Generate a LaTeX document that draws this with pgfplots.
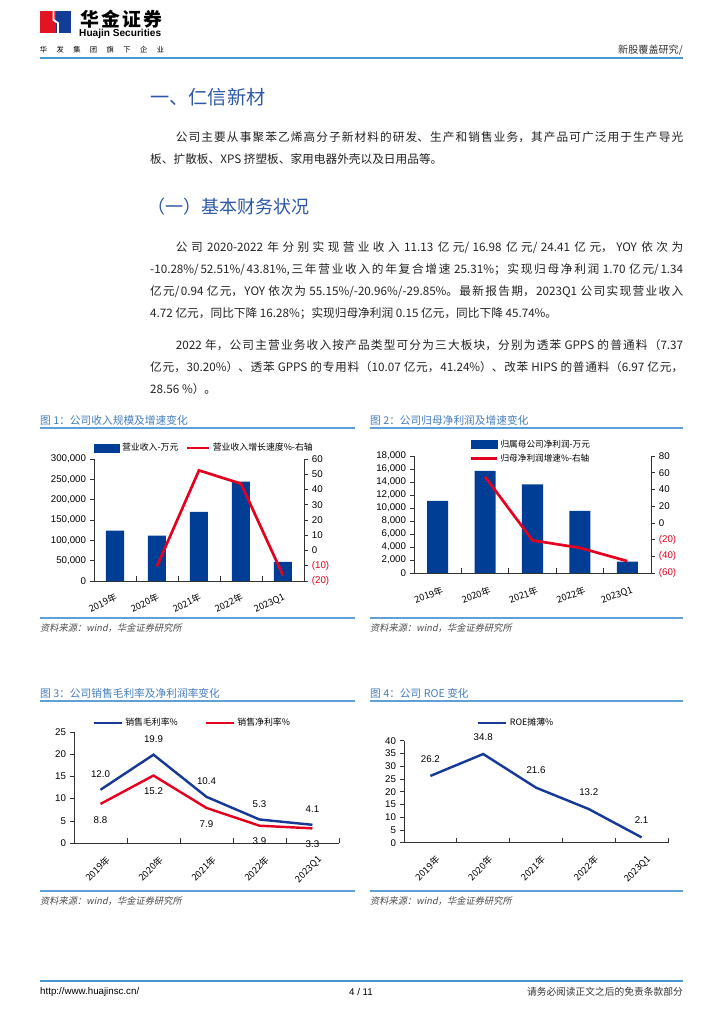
\documentclass[border=0pt]{standalone}
\usepackage{fontspec}
\usepackage{pgfplots}
\pgfplotsset{compat=1.18}
\setmainfont{Liberation Sans}
\newfontfamily\cjk{Noto Sans CJK SC}
\newfontfamily\cjkit[FakeSlant=0.2]{Noto Sans CJK SC}
\XeTeXlinebreaklocale "zh"
\XeTeXlinebreakskip=0pt plus 2pt minus 0.2pt

\definecolor{barblue}{RGB}{0,62,150}
\definecolor{lineblue}{RGB}{22,58,150}
\definecolor{axred}{RGB}{228,0,30}
\definecolor{headblue}{RGB}{45,88,165}
\definecolor{figblue}{RGB}{70,125,190}
\definecolor{rulec}{RGB}{70,150,210}
\definecolor{figrule}{RGB}{95,160,215}
\definecolor{bodytext}{RGB}{35,35,35}
\definecolor{logored}{RGB}{225,20,35}
\definecolor{logoblue}{RGB}{20,60,150}

\pgfplotsset{
  chartbase/.style={
    scale only axis, anchor=south west, xmin=-0.5, xmax=4.5, clip=false,
    axis line style={-, draw=black!80, line width=0.5pt},
    tick style={draw=black!80, line width=0.5pt},
    major tick length=3pt,
    ticklabel style={font=\fontsize{8}{9}\selectfont},
    /pgf/number format/assume math mode=true,
  },
  catx/.style={
    axis x line*=bottom, axis y line=none, ytick=\empty, ymin=0, ymax=1,
    tick align=inside, major tick length=4pt,
    xtick={0.5,1.5,2.5,3.5,4.5},
    xticklabels={2019年,2020年,2021年,2022年,2023Q1},
  },
  leftaxis/.style={axis y line*=left, axis x line=none, xtick=\empty, tick align=outside},
  rightaxis/.style={axis y line*=right, axis x line=none, xtick=\empty, tick align=outside},
}

\begin{document}
\begin{tikzpicture}
\begin{scope}[x=0.822pt, y=-0.822pt]
\fill[white] (0,0) rectangle (724,1024);
% header
\fill[logored] (40,11) rectangle (55.5,33);
\fill[logoblue] (55.5,11) rectangle (71,33);
\draw[white, line width=1.5pt] (53.5,11) -- (53.5,20) -- (58,23) -- (58,33);
\foreach \c [count=\i from 0] in {华,金,证,券}
  \node[inner sep=0pt, font=\cjk\bfseries\fontsize{15.5}{15.5}\selectfont] at (89.5+\i*21.3,19) {\c};
\node[anchor=west, inner sep=0pt, font=\bfseries\fontsize{8.3}{9}\selectfont] at (79,33.5) {Huajin Securities};
\foreach \c [count=\i from 0] in {华,发,集,团,旗,下,企,业}
  \node[inner sep=0pt, font=\cjk\fontsize{6}{6}\selectfont] at (43.5+\i*16.7,50) {\c};
\node[anchor=east, inner sep=0pt, font=\cjk\fontsize{8.3}{9}\selectfont, text=black!80] at (683,50) {新股覆盖研究/};
\draw[rulec, line width=1.6pt] (40,58) -- (683,58);
% headings and text
\node[anchor=west, inner sep=0pt, font=\cjk\fontsize{15.8}{16}\selectfont, text=headblue] at (150,97) {一、仁信新材};
\node[anchor=west, inner sep=0pt, font=\cjk\fontsize{14.8}{16}\selectfont, text=headblue] at (147,207) {（一）基本财务状况};
\begin{scope}[every node/.style={anchor=north west, inner sep=0pt, text width=438.1pt, align=justify,
    font=\cjk\fontsize{9.6}{18.1}\selectfont, text=bodytext}]
\node at (150,131) {\hspace*{2.2em}公司主要从事聚苯乙烯高分子新材料的研发、生产和销售业务，其产品可广泛用于生产导光\linebreak 板、扩散板、XPS 挤塑板、家用电器外壳以及日用品等。};
\node at (150,241) {\hspace*{2.2em}公司 2020-2022 年分别实现营业收入 11.13 亿元/16.98 亿元/24.41 亿元，YOY 依次为\linebreak -10.28\%/52.51\%/43.81\%,三年营业收入的年复合增速 25.31\%；实现归母净利润 1.70 亿元/1.34\linebreak 亿元/0.94 亿元，YOY 依次为 55.15\%/-20.96\%/-29.85\%。最新报告期，2023Q1 公司实现营业收入\linebreak 4.72 亿元，同比下降 16.28\%；实现归母净利润 0.15 亿元，同比下降 45.74\%。};
\node at (150,339) {\hspace*{2.2em}2022 年，公司主营业务收入按产品类型可分为三大板块，分别为透苯 GPPS 的普通料（7.37\linebreak 亿元，30.20\%）、透苯 GPPS 的专用料（10.07 亿元，41.24\%）、改苯 HIPS 的普通料（6.97 亿元，\linebreak 28.56 \%）。};
\end{scope}
% figure frames
\begin{scope}[every node/.style={anchor=west, inner sep=0pt, font=\cjk\fontsize{8.8}{10}\selectfont, text=figblue}]
\node at (40,420) {图 1：公司收入规模及增速变化};
\node at (370,420) {图 2：公司归母净利润及增速变化};
\node at (40,693) {图 3：公司销售毛利率及净利润率变化};
\node at (370,693) {图 4：公司 ROE 变化};
\end{scope}
\begin{scope}[every node/.style={anchor=west, inner sep=0pt, font=\cjkit\fontsize{7.6}{9}\selectfont, text=black!70}]
\node at (40,628) {资料来源：wind，华金证券研究所};
\node at (370,628) {资料来源：wind，华金证券研究所};
\node at (40,901) {资料来源：wind，华金证券研究所};
\node at (370,901) {资料来源：wind，华金证券研究所};
\end{scope}
\begin{scope}[figrule, line width=1.2pt]
\draw (40,428) -- (355,428); \draw (370,428) -- (683,428);
\draw (40,618) -- (355,618); \draw (370,618) -- (683,618);
\draw (40,701) -- (355,701); \draw (370,701) -- (683,701);
\draw (40,891) -- (355,891); \draw (370,891) -- (683,891);
\end{scope}
% footer
\draw[rulec, line width=1.4pt] (40,981) -- (683,981);
\node[anchor=west, inner sep=0pt, font=\fontsize{8}{9}\selectfont] at (40,992) {http://www.huajinsc.cn/};
\node[inner sep=0pt, font=\fontsize{8}{9}\selectfont] at (361,992) {4 / 11};
\node[anchor=east, inner sep=0pt, font=\cjk\fontsize{8}{9}\selectfont, text=black!80] at (683,992) {请务必阅读正文之后的免责条款部分};
% chart anchors
\coordinate (A1) at (94,581);
\coordinate (A2) at (414,573);
\coordinate (A3) at (74,843);
\coordinate (A4) at (404,842.7);
\end{scope}

% ---------- chart 1 ----------
\begin{axis}[chartbase, leftaxis, at={(A1)}, width=172.6pt, height=100.3pt,
  ymin=0, ymax=300000, ytick={0,50000,...,300000}, scaled y ticks=false,
  yticklabel style={/pgf/number format/.cd, fixed, 1000 sep={,}}]
\addplot[ybar, bar width=14.8pt, fill=barblue, draw=none] coordinates {
  (0,124050) (1,111300) (2,169800) (3,244100) (4,47200)};
\end{axis}
\begin{axis}[chartbase, catx, at={(A1)}, width=172.6pt, height=100.3pt,
  xticklabel style={font=\cjk\fontsize{7.6}{9}\selectfont, xshift=-16pt, yshift=-5pt, rotate=25, anchor=north east}]
\end{axis}
\begin{axis}[chartbase, rightaxis, at={(A1)}, width=172.6pt, height=100.3pt,
  ymin=-20, ymax=60, ytick={-20,-10,...,60},
  yticklabels={{\color{axred}(20)},{\color{axred}(10)},0,10,20,30,40,50,60},
  legend style={at={(0.526,1.09)}, anchor=center, draw=none, fill=none, inner sep=0pt,
    legend columns=2, font=\cjk\fontsize{7.3}{8}\selectfont,
    /tikz/every even column/.append style={column sep=4pt}}]
\addlegendimage{legend image code/.code={\fill[barblue] (0pt,-3.3pt) rectangle (21pt,3.3pt);}}
\addlegendentry{营业收入-万元}
\addlegendimage{legend image code/.code={\draw[axred, line width=2.2pt] (0pt,0pt) -- (18pt,0pt);}}
\addlegendentry{营业收入增长速度\%-右轴}
\addplot[axred, line width=2.2pt, forget plot] coordinates {
  (1,-10.28) (2,52.51) (3,43.81) (4,-16.28)};
\end{axis}

% ---------- chart 2 ----------
\begin{axis}[chartbase, leftaxis, at={(A2)}, width=194.8pt, height=96.2pt,
  ymin=0, ymax=18000, ytick={0,2000,...,18000}, scaled y ticks=false,
  yticklabel style={/pgf/number format/.cd, fixed, 1000 sep={,}}]
\addplot[ybar, bar width=17.3pt, fill=barblue, draw=none] coordinates {
  (0,11080) (1,15690) (2,13650) (3,9540) (4,1740)};
\end{axis}
\begin{axis}[chartbase, catx, at={(A2)}, width=194.8pt, height=96.2pt,
  xticklabel style={font=\cjk\fontsize{7.6}{9}\selectfont, xshift=-14.5pt, yshift=-6pt, rotate=20, anchor=north east}]
\end{axis}
\begin{axis}[chartbase, rightaxis, at={(A2)}, width=194.8pt, height=96.2pt,
  ymin=-60, ymax=80, ytick={-60,-40,...,80},
  yticklabels={{\color{axred}(60)},{\color{axred}(40)},{\color{axred}(20)},0,20,40,60,80},
  legend style={at={(0.235,1.16)}, anchor=north west, draw=none, fill=none, inner sep=0pt,
    legend cell align=left, font=\cjk\fontsize{7.1}{8}\selectfont}]
\addlegendimage{legend image code/.code={\fill[barblue] (0pt,-3.3pt) rectangle (21pt,3.3pt);}}
\addlegendentry{归属母公司净利润-万元}
\addlegendimage{legend image code/.code={\draw[axred, line width=2.2pt] (0pt,0pt) -- (21pt,0pt);}}
\addlegendentry{归母净利润增速\%-右轴}
\addplot[axred, line width=2.2pt, forget plot] coordinates {
  (1,55.15) (2,-20.96) (3,-29.85) (4,-45.74)};
\end{axis}

% ---------- chart 3 ----------
\begin{axis}[chartbase, catx, at={(A3)}, width=217.8pt, height=91.2pt,
  xticklabel style={font=\cjk\fontsize{7.6}{9}\selectfont, xshift=-18pt, yshift=-5pt, rotate=45, anchor=north east}]
\end{axis}
\begin{axis}[chartbase, leftaxis, at={(A3)}, width=217.8pt, height=91.2pt,
  ymin=0, ymax=25, ytick={0,5,...,25},
  legend style={at={(0.447,1.081)}, anchor=center, draw=none, fill=none, inner sep=0pt,
    legend columns=2, font=\cjk\fontsize{7.3}{8}\selectfont,
    /tikz/every even column/.append style={column sep=20pt}},
  legend image code/.code={\draw[#1] (0pt,0pt) -- (23pt,0pt);}]
\addplot[lineblue, line width=2pt, nodes near coords, point meta=explicit symbolic,
  every node near coord/.append style={anchor=center, yshift=13pt, text=black, font=\fontsize{8}{9}\selectfont}]
  coordinates {(0,12.0)[12.0] (1,19.9)[19.9] (2,10.4)[10.4] (3,5.3)[5.3] (4,4.1)[4.1]};
\addlegendentry{销售毛利率\%}
\addplot[axred, line width=2pt, nodes near coords, point meta=explicit symbolic,
  every node near coord/.append style={anchor=center, yshift=-13pt, text=black, font=\fontsize{8}{9}\selectfont}]
  coordinates {(0,8.8)[8.8] (1,15.2)[15.2] (2,7.9)[7.9] (3,3.9)[3.9] (4,3.3)[3.3]};
\addlegendentry{销售净利率\%}
\end{axis}

% ---------- chart 4 ----------
\begin{axis}[chartbase, catx, at={(A4)}, width=217pt, height=83.8pt,
  xticklabel style={font=\cjk\fontsize{7.6}{9}\selectfont, xshift=-18pt, yshift=-5pt, rotate=45, anchor=north east}]
\end{axis}
\begin{axis}[chartbase, leftaxis, at={(A4)}, width=217pt, height=83.8pt,
  ymin=0, ymax=40, ytick={0,5,...,40},
  legend style={at={(0.426,1.176)}, anchor=center, draw=none, fill=none, inner sep=0pt,
    font=\cjk\fontsize{7.3}{8}\selectfont},
  legend image code/.code={\draw[#1] (0pt,0pt) -- (23pt,0pt);}]
\addplot[lineblue, line width=2pt, nodes near coords, point meta=explicit symbolic,
  every node near coord/.append style={anchor=center, yshift=14pt, text=black, font=\fontsize{8}{9}\selectfont}]
  coordinates {(0,26.2)[26.2] (1,34.8)[34.8] (2,21.6)[21.6] (3,13.2)[13.2] (4,2.1)[2.1]};
\addlegendentry{ROE摊薄\%}
\end{axis}
\end{tikzpicture}
\end{document}
